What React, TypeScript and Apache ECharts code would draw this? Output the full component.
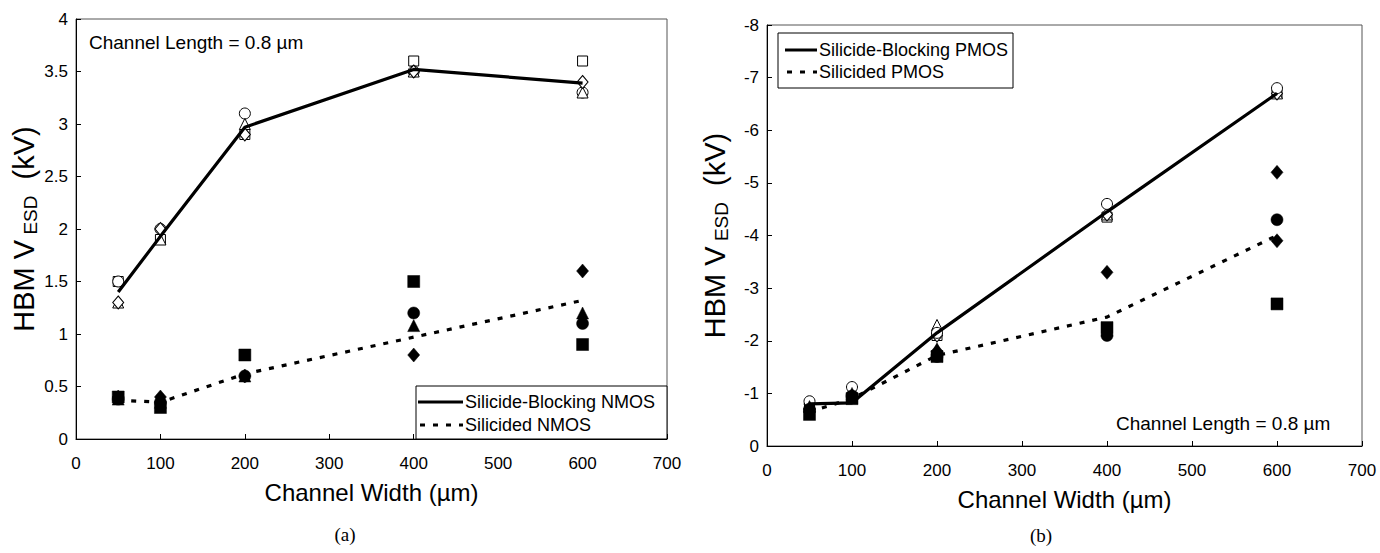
import React, { useEffect, useRef } from "react";
import * as echarts from "echarts";

// Channel widths (µm)
const widths = [50, 100, 200, 400, 600];

// (a) NMOS – silicide-blocking (open markers) and mean line
const nmosBlkSquare = [1.5, 1.9, 2.9, 3.6, 3.6];
const nmosBlkCircle = [1.5, 2.0, 3.1, 3.5, 3.3];
const nmosBlkTriangle = [1.3, 1.9, 3.0, 3.5, 3.3];
const nmosBlkDiamond = [1.3, 2.0, 2.9, 3.5, 3.4];
const nmosBlkLine = [1.4, 1.93, 2.97, 3.52, 3.39];

// (a) NMOS – silicided (filled markers) and mean line
const nmosSilSquare = [0.4, 0.3, 0.8, 1.5, 0.9];
const nmosSilCircle = [0.38, 0.35, 0.6, 1.2, 1.1];
const nmosSilTriangle = [0.38, 0.35, 0.6, 1.08, 1.2];
const nmosSilDiamond = [0.4, 0.4, 0.6, 0.8, 1.6];
const nmosSilLine = [0.37, 0.35, 0.62, 0.97, 1.32];

// (b) PMOS – silicide-blocking (open markers) and mean line
const pmosBlkSquare = [-0.75, -0.9, -2.1, -4.35, -6.7];
const pmosBlkCircle = [-0.85, -1.12, -2.15, -4.6, -6.8];
const pmosBlkTriangle = [-0.8, -0.95, -2.3, -4.4, -6.7];
const pmosBlkDiamond = [-0.8, -1.0, -2.1, -4.4, -6.7];
const pmosBlkLine = [-0.8, -0.82, -2.15, -4.45, -6.7];

// (b) PMOS – silicided (filled markers) and mean line
const pmosSilSquare = [-0.6, -0.9, -1.7, -2.25, -2.7];
const pmosSilCircle = [-0.7, -0.95, -1.7, -2.1, -4.3];
const pmosSilTriangle = [-0.75, -1.0, -1.85, -2.2, -3.9];
const pmosSilDiamond = [-0.65, -0.95, -1.8, -3.3, -5.2];
const pmosSilLine = [-0.65, -0.9, -1.72, -2.45, -4.0];

// Axis tick settings
const xTicks = { min: 0, max: 700, interval: 100 };
const yTicksA = { min: 0, max: 4, interval: 0.5 };
const yTicksB = { min: -8, max: 0, interval: 1 };

const FONT = '"Liberation Sans", Arial, sans-serif';
const SERIF = '"Liberation Serif", "Times New Roman", serif';

const pairs = (vals: number[]) => widths.map((w, i) => [w, vals[i]]);

function scatter(name: string, vals: number[], symbol: any, filled: boolean, idx: number, size: any = 10) {
  return {
    name,
    type: "scatter",
    xAxisIndex: idx,
    yAxisIndex: idx,
    data: pairs(vals),
    symbol,
    symbolSize: size,
    itemStyle: filled
      ? { color: "#000", borderColor: "#000", borderWidth: 0.5, opacity: 1 }
      : { color: "#fff", borderColor: "#000", borderWidth: 1, opacity: 1 },
    z: 2,
  };
}

function line(name: string, vals: number[], dashed: boolean, idx: number) {
  return {
    name,
    type: "line",
    xAxisIndex: idx,
    yAxisIndex: idx,
    data: pairs(vals),
    symbol: "none",
    lineStyle: { color: "#000", width: 3.2, type: dashed ? [5, 8] : "solid" },
    z: 3,
  };
}

function xAxisCfg(idx: number) {
  return {
    gridIndex: idx,
    type: "value",
    ...xTicks,
    axisLine: { show: true, onZero: false, lineStyle: { color: "#000", width: 1 } },
    axisTick: { show: true, inside: true, length: 5, lineStyle: { color: "#000" } },
    splitLine: { show: false },
    axisLabel: { color: "#000", fontSize: 17, fontFamily: FONT, margin: 16 },
    name: "Channel Width (µm)",
    nameLocation: "middle",
    nameGap: 41,
    nameTextStyle: { color: "#000", fontSize: 24, fontFamily: FONT },
  };
}

function yAxisCfg(idx: number, ticks: any, inverse: boolean) {
  return {
    gridIndex: idx,
    type: "value",
    ...ticks,
    inverse,
    axisLine: { show: true, onZero: false, lineStyle: { color: "#000", width: 1 } },
    axisTick: { show: true, inside: true, length: 5, lineStyle: { color: "#000" } },
    splitLine: { show: false },
    axisLabel: { color: "#000", fontSize: 17, fontFamily: FONT, margin: 8 },
    name: "{a|HBM V}{s| ESD}{a|  (kV)}",
    nameLocation: "middle",
    nameRotate: 90,
    nameGap: 36,
    nameTextStyle: {
      color: "#000",
      fontFamily: FONT,
      rich: {
        a: { fontSize: 29, fontFamily: FONT, color: "#000", lineHeight: 32 },
        s: { fontSize: 19, fontFamily: FONT, color: "#000", verticalAlign: "bottom", lineHeight: 32 },
      },
    },
  };
}

function legendGraphics(box: number[], rows: number[], sampleX: number[], textX: number, labels: string[]) {
  return [
    {
      type: "rect",
      shape: { x: box[0], y: box[1], width: box[2], height: box[3] },
      style: { fill: "#fff", stroke: "#000", lineWidth: 1 },
      z: 10,
    },
    {
      type: "line",
      shape: { x1: sampleX[0], y1: rows[0], x2: sampleX[1], y2: rows[0] },
      style: { stroke: "#000", lineWidth: 3 },
      z: 11,
    },
    {
      type: "line",
      shape: { x1: sampleX[0] + 2, y1: rows[1], x2: sampleX[1], y2: rows[1] },
      style: { stroke: "#000", lineWidth: 3, lineDash: [5, 8] },
      z: 11,
    },
    {
      type: "text",
      x: textX,
      y: rows[0],
      style: { text: labels[0], fontSize: 18, fontFamily: FONT, fill: "#000", verticalAlign: "middle", align: "left" },
      z: 11,
    },
    {
      type: "text",
      x: textX,
      y: rows[1],
      style: { text: labels[1], fontSize: 18, fontFamily: FONT, fill: "#000", verticalAlign: "middle", align: "left" },
      z: 11,
    },
  ];
}

export default function App() {
  const ref = useRef<HTMLDivElement>(null);

  useEffect(() => {
    if (!ref.current) return;
    const chart = echarts.init(ref.current, null, { renderer: "svg" });
    const option: any = {
      animation: false,
      backgroundColor: "#fff",
      grid: [
        { left: 76, top: 19, width: 591, height: 420, show: true, borderColor: "#555", borderWidth: 1, backgroundColor: "transparent" },
        { left: 767, top: 25, width: 595, height: 421, show: true, borderColor: "#555", borderWidth: 1, backgroundColor: "transparent" },
      ],
      xAxis: [xAxisCfg(0), xAxisCfg(1)],
      yAxis: [yAxisCfg(0, yTicksA, false), yAxisCfg(1, yTicksB, true)],
      series: [
        scatter("NMOS blk square", nmosBlkSquare, "rect", false, 0, 10),
        scatter("NMOS blk circle", nmosBlkCircle, "circle", false, 0, 11),
        scatter("NMOS blk triangle", nmosBlkTriangle, "triangle", false, 0, 11),
        scatter("NMOS blk diamond", nmosBlkDiamond, "diamond", false, 0, [11, 13]),
        scatter("NMOS sil circle", nmosSilCircle, "circle", true, 0, 12),
        scatter("NMOS sil triangle", nmosSilTriangle, "triangle", true, 0, 12),
        scatter("NMOS sil square", nmosSilSquare, "rect", true, 0, 12),
        scatter("NMOS sil diamond", nmosSilDiamond, "diamond", true, 0, [12, 14]),
        line("Silicide-Blocking NMOS", nmosBlkLine, false, 0),
        line("Silicided NMOS", nmosSilLine, true, 0),

        scatter("PMOS blk square", pmosBlkSquare, "rect", false, 1, 10),
        scatter("PMOS blk triangle", pmosBlkTriangle, "triangle", false, 1, 11),
        scatter("PMOS blk diamond", pmosBlkDiamond, "diamond", false, 1, [11, 13]),
        scatter("PMOS blk circle", pmosBlkCircle, "circle", false, 1, 11),
        scatter("PMOS sil circle", pmosSilCircle, "circle", true, 1, 12),
        scatter(
          "PMOS sil triangle",
          pmosSilTriangle,
          (_v: any, p: any) => (p && p.dataIndex === 4 ? "diamond" : "triangle"),
          true,
          1,
          (_v: any, p: any) => (p && p.dataIndex === 4 ? [12, 14] : 12)
        ),
        scatter("PMOS sil square", pmosSilSquare, "rect", true, 1, 12),
        scatter("PMOS sil diamond", pmosSilDiamond, "diamond", true, 1, [12, 14]),
        line("Silicide-Blocking PMOS", pmosBlkLine, false, 1),
        line("Silicided PMOS", pmosSilLine, true, 1),
      ],
      graphic: [
        ...legendGraphics([416, 386, 251, 53], [402, 425], [418, 463], 465, ["Silicide-Blocking NMOS", "Silicided NMOS"]),
        ...legendGraphics([778, 33, 235, 55], [50, 72], [785, 817], 819, ["Silicide-Blocking PMOS", "Silicided PMOS"]),
        {
          type: "text",
          x: 89,
          y: 42,
          style: { text: "Channel Length = 0.8 µm", fontSize: 19, fontFamily: FONT, fill: "#000", verticalAlign: "middle", align: "left" },
          z: 11,
        },
        {
          type: "text",
          x: 1116,
          y: 423,
          style: { text: "Channel Length = 0.8 µm", fontSize: 19, fontFamily: FONT, fill: "#000", verticalAlign: "middle", align: "left" },
          z: 11,
        },
        {
          type: "text",
          x: 345,
          y: 534,
          style: { text: "(a)", fontSize: 19, fontFamily: SERIF, fill: "#000", verticalAlign: "middle", align: "center" },
        },
        {
          type: "text",
          x: 1041,
          y: 535,
          style: { text: "(b)", fontSize: 19, fontFamily: SERIF, fill: "#000", verticalAlign: "middle", align: "center" },
        },
      ],
    };
    chart.setOption(option);
    return () => chart.dispose();
  }, []);

  return (
    <div
      ref={ref}
      style={{ position: "absolute", left: 0, top: 0, width: 1380, height: 553, background: "#fff" }}
    />
  );
}
